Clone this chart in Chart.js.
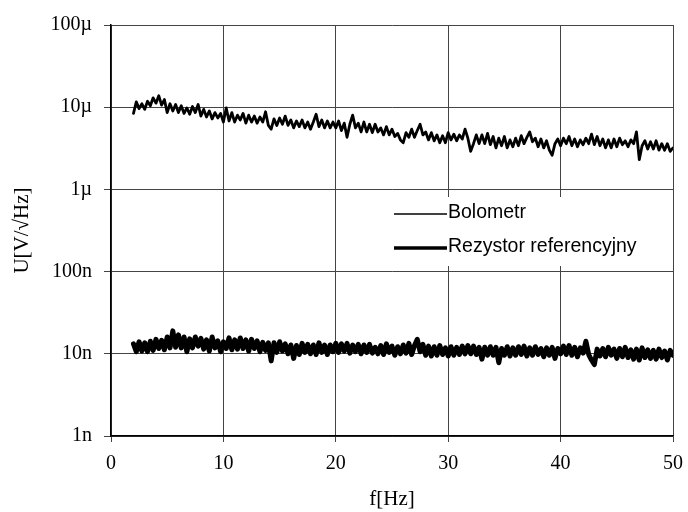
<!DOCTYPE html>
<html>
<head>
<meta charset="utf-8">
<title>Widmo szumu</title>
<script src="https://cdn.jsdelivr.net/npm/chart.js@4.4.1/dist/chart.umd.min.js"></script>
<style>
  html, body { margin: 0; padding: 0; background: #fff; }
  #wrap { width: 688px; height: 512px; position: relative; }
</style>
</head>
<body>
<div id="wrap"><canvas id="c" width="688" height="512"></canvas></div>
<script>
// Frequency grid of the measurement [Hz]
const freqStart = 2.0;
const freqStep = 0.25;

// Bolometer noise spectral density [µV/√Hz]
const bolometrUV = [
  8.4, 11.6, 9.6, 11.0, 9.4, 11.8, 10.4, 13.0,
  11.2, 13.8, 10.6, 12.4, 8.6, 11.0, 9.0, 10.8,
  8.6, 10.4, 8.4, 9.8, 8.2, 10.2, 8.6, 10.8,
  7.8, 9.4, 7.6, 9.0, 7.2, 8.6, 7.4, 8.4,
  6.6, 9.8, 6.8, 8.6, 6.6, 8.0, 7.0, 8.4,
  6.4, 8.0, 6.6, 7.8, 6.4, 7.6, 6.6, 8.8,
  6.0, 5.4, 7.2, 6.0, 7.4, 6.2, 7.8, 6.0,
  7.0, 5.6, 6.8, 5.8, 7.0, 5.6, 6.6, 5.4,
  6.6, 8.2, 5.8, 7.0, 5.6, 6.8, 5.6, 6.6,
  5.6, 6.8, 5.2, 6.4, 4.3, 6.2, 8.0, 5.6,
  6.4, 5.0, 6.6, 5.0, 6.2, 4.9, 6.2, 5.0,
  5.6, 4.6, 5.8, 4.6, 5.4, 4.4, 4.8, 4.0,
  3.7, 4.9, 4.3, 5.4, 4.3, 5.2, 6.2, 4.6,
  5.0, 4.0, 4.9, 3.9, 4.6, 3.7, 4.5, 3.7,
  4.9, 4.0, 4.7, 3.9, 4.6, 4.1, 5.4, 4.2,
  2.9, 3.6, 4.6, 3.6, 4.6, 3.6, 4.8, 3.5,
  4.4, 3.2, 4.2, 3.4, 4.4, 3.2, 4.0, 3.3,
  4.2, 3.4, 4.5, 3.6, 4.3, 5.0, 3.8, 4.2,
  3.3, 4.1, 3.2, 3.9, 3.0, 2.6, 3.6, 4.1,
  3.4, 4.2, 3.6, 4.4, 3.4, 4.1, 3.3, 4.0,
  3.5, 4.2, 3.6, 4.7, 3.5, 4.4, 3.4, 4.1,
  3.2, 4.0, 3.2, 4.1, 3.3, 4.2, 3.5, 3.9,
  3.3, 4.0, 3.6, 5.0, 2.3, 3.4, 3.9, 3.1,
  3.8, 3.1, 3.9, 3.0, 3.6, 3.0, 3.6, 2.9,
  3.2
];

// Reference resistor noise spectral density [nV/√Hz]
const rezystorNV = [
  13.2, 10.6, 14.0, 10.8, 13.6, 10.6, 14.2, 11.0,
  15.0, 11.6, 14.6, 11.2, 16.0, 11.8, 19.0, 12.0,
  17.0, 11.8, 16.0, 10.6, 15.2, 11.8, 16.0, 12.4,
  15.4, 11.4, 14.8, 10.8, 16.0, 11.8, 14.4, 10.6,
  14.0, 11.6, 15.6, 11.2, 14.8, 11.4, 15.6, 11.6,
  14.8, 10.8, 15.0, 11.6, 14.4, 10.6, 13.8, 11.0,
  13.6, 8.2, 13.6, 10.4, 14.0, 10.8, 13.2, 10.0,
  12.8, 8.8, 12.6, 9.8, 13.4, 10.4, 13.0, 10.0,
  12.8, 9.8, 13.6, 10.4, 12.8, 9.8, 12.8, 10.6,
  13.4, 10.4, 13.2, 10.8, 13.4, 10.2, 12.8, 10.6,
  13.0, 10.0, 12.8, 10.4, 13.0, 10.2, 12.0, 10.0,
  12.6, 9.8, 13.2, 10.4, 12.4, 9.6, 12.2, 10.0,
  12.8, 10.2, 13.4, 9.8, 12.6, 15.0, 10.6, 13.0,
  9.6, 12.4, 9.4, 12.2, 9.6, 12.6, 9.8, 11.8,
  9.4, 12.2, 9.6, 12.0, 9.8, 12.4, 10.0, 12.6,
  10.0, 12.4, 9.8, 12.0, 8.6, 12.0, 9.6, 12.2,
  9.6, 12.0, 7.8, 11.6, 9.6, 12.2, 9.4, 11.8,
  9.6, 12.2, 9.8, 12.4, 9.4, 11.8, 9.6, 12.2,
  9.8, 11.6, 9.2, 11.8, 9.6, 12.0, 8.8, 11.6,
  10.0, 12.4, 9.8, 12.6, 9.6, 12.0, 9.2, 11.8,
  10.2, 14.2, 9.8, 8.4, 7.4, 11.4, 9.4, 11.6,
  9.2, 12.0, 9.6, 11.4, 8.8, 11.6, 9.2, 12.0,
  9.0, 11.2, 8.6, 11.4, 8.4, 11.8, 9.0, 11.2,
  8.8, 11.0, 8.6, 11.4, 9.0, 10.8, 8.4, 11.0,
  9.6
];

const seriesLabels = ['Bolometr', 'Rezystor referencyjny'];

// Decade ticks of the vertical axis and their labels
const yTickValues = [1e-9, 1e-8, 1e-7, 1e-6, 1e-5, 1e-4];
const yTickLabels = ['1n', '10n', '100n', '1\u00b5', '10\u00b5', '100\u00b5'];

// Frequency axis ticks
const xTickValues = [0, 10, 20, 30, 40, 50];

const toPoints = (arr, unit) =>
  arr.map((v, i) => ({ x: freqStart + freqStep * i, y: v * unit }));

const serif = "'Liberation Serif', 'DejaVu Serif', serif";
const sans = "'Liberation Sans', Arial, sans-serif";

// Legend drawn inside the plot on a white panel
const innerLegend = {
  id: 'innerLegend',
  afterDraw(chart) {
    const ctx = chart.ctx;
    ctx.save();
    ctx.fillStyle = '#fff';
    ctx.fillRect(386, 197, 284, 69);
    const rows = [
      { y: 214, w: 1.6 },
      { y: 248, w: 3.6 }
    ];
    ctx.font = '19.5px ' + sans;
    ctx.textBaseline = 'middle';
    ctx.fillStyle = '#000';
    rows.forEach((r, i) => {
      ctx.strokeStyle = '#000';
      ctx.lineWidth = r.w;
      ctx.beginPath();
      ctx.moveTo(394, r.y);
      ctx.lineTo(447, r.y);
      ctx.stroke();
      ctx.fillText(chart.data.datasets[i].label, 448, r.y - 1);
    });
    ctx.restore();
  }
};

new Chart(document.getElementById('c'), {
  type: 'line',
  data: {
    datasets: [
      {
        label: seriesLabels[0],
        data: toPoints(bolometrUV, 1e-6),
        borderColor: '#000',
        borderWidth: 2.8,
        pointRadius: 0,
        tension: 0,
        borderJoinStyle: 'round',
        borderCapStyle: 'round'
      },
      {
        label: seriesLabels[1],
        data: toPoints(rezystorNV, 1e-9),
        borderColor: '#000',
        borderWidth: 5,
        pointRadius: 0,
        tension: 0,
        borderJoinStyle: 'round',
        borderCapStyle: 'round'
      }
    ]
  },
  options: {
    responsive: false,
    animation: false,
    devicePixelRatio: 1,
    layout: { padding: { top: 25, right: 15, left: 0, bottom: 0 } },
    plugins: {
      legend: { display: false },
      tooltip: { enabled: false }
    },
    scales: {
      x: {
        type: 'linear',
        min: 0,
        max: 50,
        afterBuildTicks: (axis) => { axis.ticks = xTickValues.map(v => ({ value: v })); },
        afterFit: (axis) => {
          axis.height = 76;
          axis.paddingRight = 0;
          axis.paddingLeft = 0;
        },
        ticks: {
          color: '#000',
          font: { family: serif, size: 20 },
          padding: 10,
          maxRotation: 0
        },
        grid: { color: '#444', lineWidth: 1, tickLength: 6 },
        border: { color: '#000', width: 1.5 },
        title: {
          display: true,
          text: 'f[Hz]',
          color: '#000',
          font: { family: serif, size: 21 },
          padding: { top: 0, bottom: 0 }
        }
      },
      y: {
        type: 'logarithmic',
        min: 1e-9,
        max: 1e-4,
        afterBuildTicks: (axis) => { axis.ticks = yTickValues.map(v => ({ value: v })); },
        afterFit: (axis) => { axis.width = 111; },
        ticks: {
          color: '#000',
          font: { family: serif, size: 20 },
          padding: 12,
          callback: (v) => {
            const i = yTickValues.findIndex(t => Math.abs(Math.log10(t) - Math.log10(v)) < 1e-6);
            return i >= 0 ? yTickLabels[i] : '';
          }
        },
        grid: { color: '#444', lineWidth: 1, tickLength: 7 },
        border: { color: '#000', width: 1.5 },
        title: {
          display: true,
          text: 'U[V/\u221aHz]',
          color: '#000',
          font: { family: serif, size: 21 },
          padding: { top: 10, bottom: 0 }
        }
      }
    }
  },
  plugins: [innerLegend]
});
</script>
</body>
</html>
